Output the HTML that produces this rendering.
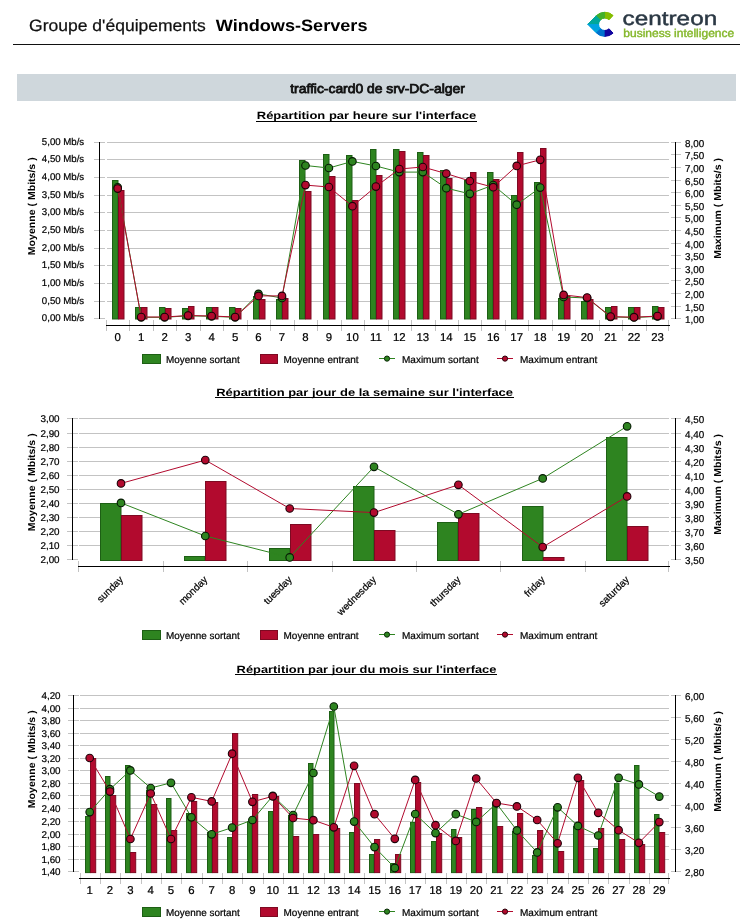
<!DOCTYPE html>
<html><head><meta charset="utf-8"><title>Windows-Servers</title>
<style>html,body{margin:0;padding:0;background:#fff}svg{display:block;will-change:transform}text{font-family:"Liberation Sans",sans-serif}</style>
</head><body>
<svg width="755" height="921" viewBox="0 0 755 921" text-rendering="geometricPrecision">
<rect width="755" height="921" fill="#fff"/>
<text transform="translate(29.00,31.00) scale(1.0620,1)" font-size="16.5" font-weight="normal" text-anchor="start" fill="#111" stroke="#111" stroke-width="0.25">Groupe d'équipements</text>
<text transform="translate(215.70,31.00) scale(1.0975,1)" font-size="16.5" font-weight="bold" text-anchor="start" fill="#000" >Windows-Servers</text>
<rect x="13" y="44" width="727" height="1" fill="#111"/>
<g shape-rendering="geometricPrecision">
<path d="M604.80,12.25 A12.05,12.05 0 0 1 613.02,15.49 L609.03,19.77 A6.2,6.2 0 0 0 604.80,18.10 Z" fill="#84bd00" stroke="#84bd00" stroke-width="1.0" stroke-linejoin="round"/>
<path d="M596.28,15.78 A12.05,12.05 0 0 1 604.80,12.25 L604.80,18.10 A6.2,6.2 0 0 0 600.42,19.92 Z" fill="#43b02a" stroke="#43b02a" stroke-width="1.0" stroke-linejoin="round"/>
<path d="M587.75,24.3 L596.28,15.78 L600.42,19.92 A6.2,6.2 0 0 0 598.60,24.30 Z" fill="#00a79a" stroke="#00a79a" stroke-width="1.0" stroke-linejoin="round"/>
<path d="M587.75,24.3 L596.28,32.82 L600.42,28.68 A6.2,6.2 0 0 1 598.60,24.30 Z" fill="#00a3e0" stroke="#00a3e0" stroke-width="1.0" stroke-linejoin="round"/>
<path d="M604.80,36.35 A12.05,12.05 0 0 1 596.28,32.82 L600.42,28.68 A6.2,6.2 0 0 0 604.80,30.50 Z" fill="#0072ce" stroke="#0072ce" stroke-width="1.0" stroke-linejoin="round"/>
<path d="M613.02,33.11 A12.05,12.05 0 0 1 604.80,36.35 L604.80,30.50 A6.2,6.2 0 0 0 609.03,28.83 Z" fill="#12069f" stroke="#12069f" stroke-width="1.0" stroke-linejoin="round"/>
<path d="M604.80,12.25 A12.05,12.05 0 0 1 613.02,15.49 L609.03,19.77 A6.2,6.2 0 0 0 604.80,18.10 Z" fill="#84bd00" stroke="#84bd00" stroke-width="0" stroke-linejoin="round"/>
<path d="M596.28,15.78 A12.05,12.05 0 0 1 604.80,12.25 L604.80,18.10 A6.2,6.2 0 0 0 600.42,19.92 Z" fill="#43b02a" stroke="#43b02a" stroke-width="0" stroke-linejoin="round"/>
<path d="M587.75,24.3 L596.28,15.78 L600.42,19.92 A6.2,6.2 0 0 0 598.60,24.30 Z" fill="#00a79a" stroke="#00a79a" stroke-width="0" stroke-linejoin="round"/>
<path d="M587.75,24.3 L596.28,32.82 L600.42,28.68 A6.2,6.2 0 0 1 598.60,24.30 Z" fill="#00a3e0" stroke="#00a3e0" stroke-width="0" stroke-linejoin="round"/>
<path d="M604.80,36.35 A12.05,12.05 0 0 1 596.28,32.82 L600.42,28.68 A6.2,6.2 0 0 0 604.80,30.50 Z" fill="#0072ce" stroke="#0072ce" stroke-width="0" stroke-linejoin="round"/>
<path d="M613.02,33.11 A12.05,12.05 0 0 1 604.80,36.35 L604.80,30.50 A6.2,6.2 0 0 0 609.03,28.83 Z" fill="#12069f" stroke="#12069f" stroke-width="0" stroke-linejoin="round"/>
</g>
<text transform="translate(622.60,24.70) scale(1.2400,1)" font-size="19.6" font-weight="normal" text-anchor="start" fill="#2b3844" stroke="#2b3844" stroke-width="0.45">centreon</text>
<text transform="translate(623.30,36.90) scale(1.0450,1)" font-size="11.5" font-weight="normal" text-anchor="start" fill="#84b72a" stroke="#84b72a" stroke-width="0.4">business intelligence</text>
<rect x="17" y="74" width="719" height="27" fill="#cfd7dc"/>
<text transform="translate(377.50,92.60) scale(1.0660,1)" font-size="13" font-weight="normal" text-anchor="middle" fill="#111" stroke="#111" stroke-width="0.8">traffic-card0 de srv-DC-alger</text>
<text transform="translate(366.50,119.20) scale(1.2252,1)" font-size="10.6" font-weight="bold" text-anchor="middle" fill="#000" >Répartition par heure sur l'interface</text>
<rect x="256" y="121" width="221" height="1" fill="#000"/>
<rect x="94" y="142" width="11" height="1" fill="#c3c3c3"/>
<rect x="107" y="142" width="562" height="1" fill="#c3c3c3"/>
<rect x="94" y="159" width="11" height="1" fill="#c3c3c3"/>
<rect x="107" y="159" width="562" height="1" fill="#c3c3c3"/>
<rect x="94" y="177" width="11" height="1" fill="#c3c3c3"/>
<rect x="107" y="177" width="562" height="1" fill="#c3c3c3"/>
<rect x="94" y="195" width="11" height="1" fill="#c3c3c3"/>
<rect x="107" y="195" width="562" height="1" fill="#c3c3c3"/>
<rect x="94" y="212" width="11" height="1" fill="#c3c3c3"/>
<rect x="107" y="212" width="562" height="1" fill="#c3c3c3"/>
<rect x="94" y="230" width="11" height="1" fill="#c3c3c3"/>
<rect x="107" y="230" width="562" height="1" fill="#c3c3c3"/>
<rect x="94" y="248" width="11" height="1" fill="#c3c3c3"/>
<rect x="107" y="248" width="562" height="1" fill="#c3c3c3"/>
<rect x="94" y="265" width="11" height="1" fill="#c3c3c3"/>
<rect x="107" y="265" width="562" height="1" fill="#c3c3c3"/>
<rect x="94" y="283" width="11" height="1" fill="#c3c3c3"/>
<rect x="107" y="283" width="562" height="1" fill="#c3c3c3"/>
<rect x="94" y="301" width="11" height="1" fill="#c3c3c3"/>
<rect x="107" y="301" width="562" height="1" fill="#c3c3c3"/>
<rect x="94" y="318" width="11" height="1" fill="#c3c3c3"/>
<rect x="671" y="142" width="10" height="1" fill="#c3c3c3"/>
<rect x="671" y="154" width="10" height="1" fill="#c3c3c3"/>
<rect x="671" y="167" width="10" height="1" fill="#c3c3c3"/>
<rect x="671" y="180" width="10" height="1" fill="#c3c3c3"/>
<rect x="671" y="192" width="10" height="1" fill="#c3c3c3"/>
<rect x="671" y="205" width="10" height="1" fill="#c3c3c3"/>
<rect x="671" y="217" width="10" height="1" fill="#c3c3c3"/>
<rect x="671" y="230" width="10" height="1" fill="#c3c3c3"/>
<rect x="671" y="243" width="10" height="1" fill="#c3c3c3"/>
<rect x="671" y="255" width="10" height="1" fill="#c3c3c3"/>
<rect x="671" y="268" width="10" height="1" fill="#c3c3c3"/>
<rect x="671" y="280" width="10" height="1" fill="#c3c3c3"/>
<rect x="671" y="293" width="10" height="1" fill="#c3c3c3"/>
<rect x="671" y="306" width="10" height="1" fill="#c3c3c3"/>
<rect x="671" y="318" width="10" height="1" fill="#c3c3c3"/>
<rect x="112.5" y="180.5" width="5.5" height="138.5" fill="#2e8420" stroke="#1d5f14" stroke-width="1"/>
<rect x="118.5" y="190.5" width="5.5" height="128.5" fill="#b20a2e" stroke="#7d0a22" stroke-width="1"/>
<rect x="135.5" y="307.5" width="5.5" height="11.5" fill="#2e8420" stroke="#1d5f14" stroke-width="1"/>
<rect x="141.5" y="307.5" width="5.5" height="11.5" fill="#b20a2e" stroke="#7d0a22" stroke-width="1"/>
<rect x="159.5" y="307.5" width="5.5" height="11.5" fill="#2e8420" stroke="#1d5f14" stroke-width="1"/>
<rect x="165.5" y="308.5" width="5.5" height="10.5" fill="#b20a2e" stroke="#7d0a22" stroke-width="1"/>
<rect x="182.5" y="308.5" width="5.5" height="10.5" fill="#2e8420" stroke="#1d5f14" stroke-width="1"/>
<rect x="188.5" y="306.5" width="5.5" height="12.5" fill="#b20a2e" stroke="#7d0a22" stroke-width="1"/>
<rect x="206.5" y="307.5" width="5.5" height="11.5" fill="#2e8420" stroke="#1d5f14" stroke-width="1"/>
<rect x="212.5" y="307.5" width="5.5" height="11.5" fill="#b20a2e" stroke="#7d0a22" stroke-width="1"/>
<rect x="229.5" y="307.5" width="5.5" height="11.5" fill="#2e8420" stroke="#1d5f14" stroke-width="1"/>
<rect x="235.5" y="308.5" width="5.5" height="10.5" fill="#b20a2e" stroke="#7d0a22" stroke-width="1"/>
<rect x="253.5" y="296.5" width="5.5" height="22.5" fill="#2e8420" stroke="#1d5f14" stroke-width="1"/>
<rect x="259.5" y="299.5" width="5.5" height="19.5" fill="#b20a2e" stroke="#7d0a22" stroke-width="1"/>
<rect x="276.5" y="299.5" width="5.5" height="19.5" fill="#2e8420" stroke="#1d5f14" stroke-width="1"/>
<rect x="282.5" y="298.5" width="5.5" height="20.5" fill="#b20a2e" stroke="#7d0a22" stroke-width="1"/>
<rect x="299.5" y="160.5" width="5.5" height="158.5" fill="#2e8420" stroke="#1d5f14" stroke-width="1"/>
<rect x="305.5" y="191.5" width="5.5" height="127.5" fill="#b20a2e" stroke="#7d0a22" stroke-width="1"/>
<rect x="323.5" y="154.5" width="5.5" height="164.5" fill="#2e8420" stroke="#1d5f14" stroke-width="1"/>
<rect x="329.5" y="176.5" width="5.5" height="142.5" fill="#b20a2e" stroke="#7d0a22" stroke-width="1"/>
<rect x="346.5" y="155.5" width="5.5" height="163.5" fill="#2e8420" stroke="#1d5f14" stroke-width="1"/>
<rect x="352.5" y="200.5" width="5.5" height="118.5" fill="#b20a2e" stroke="#7d0a22" stroke-width="1"/>
<rect x="370.5" y="149.5" width="5.5" height="169.5" fill="#2e8420" stroke="#1d5f14" stroke-width="1"/>
<rect x="376.5" y="175.5" width="5.5" height="143.5" fill="#b20a2e" stroke="#7d0a22" stroke-width="1"/>
<rect x="393.5" y="149.5" width="5.5" height="169.5" fill="#2e8420" stroke="#1d5f14" stroke-width="1"/>
<rect x="399.5" y="151.5" width="5.5" height="167.5" fill="#b20a2e" stroke="#7d0a22" stroke-width="1"/>
<rect x="417.5" y="152.5" width="5.5" height="166.5" fill="#2e8420" stroke="#1d5f14" stroke-width="1"/>
<rect x="423.5" y="155.5" width="5.5" height="163.5" fill="#b20a2e" stroke="#7d0a22" stroke-width="1"/>
<rect x="440.5" y="170.5" width="5.5" height="148.5" fill="#2e8420" stroke="#1d5f14" stroke-width="1"/>
<rect x="446.5" y="178.5" width="5.5" height="140.5" fill="#b20a2e" stroke="#7d0a22" stroke-width="1"/>
<rect x="464.5" y="180.5" width="5.5" height="138.5" fill="#2e8420" stroke="#1d5f14" stroke-width="1"/>
<rect x="470.5" y="172.5" width="5.5" height="146.5" fill="#b20a2e" stroke="#7d0a22" stroke-width="1"/>
<rect x="487.5" y="172.5" width="5.5" height="146.5" fill="#2e8420" stroke="#1d5f14" stroke-width="1"/>
<rect x="493.5" y="179.5" width="5.5" height="139.5" fill="#b20a2e" stroke="#7d0a22" stroke-width="1"/>
<rect x="511.5" y="195.5" width="5.5" height="123.5" fill="#2e8420" stroke="#1d5f14" stroke-width="1"/>
<rect x="517.5" y="152.5" width="5.5" height="166.5" fill="#b20a2e" stroke="#7d0a22" stroke-width="1"/>
<rect x="534.5" y="182.5" width="5.5" height="136.5" fill="#2e8420" stroke="#1d5f14" stroke-width="1"/>
<rect x="540.5" y="148.5" width="5.5" height="170.5" fill="#b20a2e" stroke="#7d0a22" stroke-width="1"/>
<rect x="558.5" y="298.5" width="5.5" height="20.5" fill="#2e8420" stroke="#1d5f14" stroke-width="1"/>
<rect x="564.5" y="296.5" width="5.5" height="22.5" fill="#b20a2e" stroke="#7d0a22" stroke-width="1"/>
<rect x="581.5" y="301.5" width="5.5" height="17.5" fill="#2e8420" stroke="#1d5f14" stroke-width="1"/>
<rect x="587.5" y="299.5" width="5.5" height="19.5" fill="#b20a2e" stroke="#7d0a22" stroke-width="1"/>
<rect x="605.5" y="307.5" width="5.5" height="11.5" fill="#2e8420" stroke="#1d5f14" stroke-width="1"/>
<rect x="611.5" y="306.5" width="5.5" height="12.5" fill="#b20a2e" stroke="#7d0a22" stroke-width="1"/>
<rect x="628.5" y="307.5" width="5.5" height="11.5" fill="#2e8420" stroke="#1d5f14" stroke-width="1"/>
<rect x="634.5" y="307.5" width="5.5" height="11.5" fill="#b20a2e" stroke="#7d0a22" stroke-width="1"/>
<rect x="652.5" y="306.5" width="5.5" height="12.5" fill="#2e8420" stroke="#1d5f14" stroke-width="1"/>
<rect x="658.5" y="307.5" width="5.5" height="11.5" fill="#b20a2e" stroke="#7d0a22" stroke-width="1"/>
<rect x="99" y="142" width="1" height="177" fill="#000"/>
<rect x="675" y="142" width="1" height="177" fill="#000"/>
<rect x="106" y="320" width="1" height="11" fill="#c3c3c3"/>
<rect x="129" y="320" width="1" height="11" fill="#c3c3c3"/>
<rect x="153" y="320" width="1" height="11" fill="#c3c3c3"/>
<rect x="176" y="320" width="1" height="11" fill="#c3c3c3"/>
<rect x="200" y="320" width="1" height="11" fill="#c3c3c3"/>
<rect x="223" y="320" width="1" height="11" fill="#c3c3c3"/>
<rect x="247" y="320" width="1" height="11" fill="#c3c3c3"/>
<rect x="270" y="320" width="1" height="11" fill="#c3c3c3"/>
<rect x="294" y="320" width="1" height="11" fill="#c3c3c3"/>
<rect x="317" y="320" width="1" height="11" fill="#c3c3c3"/>
<rect x="341" y="320" width="1" height="11" fill="#c3c3c3"/>
<rect x="364" y="320" width="1" height="11" fill="#c3c3c3"/>
<rect x="388" y="320" width="1" height="11" fill="#c3c3c3"/>
<rect x="411" y="320" width="1" height="11" fill="#c3c3c3"/>
<rect x="435" y="320" width="1" height="11" fill="#c3c3c3"/>
<rect x="458" y="320" width="1" height="11" fill="#c3c3c3"/>
<rect x="481" y="320" width="1" height="11" fill="#c3c3c3"/>
<rect x="505" y="320" width="1" height="11" fill="#c3c3c3"/>
<rect x="528" y="320" width="1" height="11" fill="#c3c3c3"/>
<rect x="552" y="320" width="1" height="11" fill="#c3c3c3"/>
<rect x="575" y="320" width="1" height="11" fill="#c3c3c3"/>
<rect x="599" y="320" width="1" height="11" fill="#c3c3c3"/>
<rect x="622" y="320" width="1" height="11" fill="#c3c3c3"/>
<rect x="646" y="320" width="1" height="11" fill="#c3c3c3"/>
<rect x="668" y="320" width="1" height="11" fill="#c3c3c3"/>
<rect x="106" y="325" width="564" height="1" fill="#000"/>
<polyline points="117.7,187.3 141.2,317.3 164.6,317.3 188.1,315.8 211.6,316.3 235.1,317.3 258.5,293.9 282.0,298.0 305.5,165.5 328.9,168.0 352.4,161.4 375.9,166.0 399.3,172.1 422.8,172.1 446.3,188.2 469.8,193.8 493.2,185.1 516.7,204.7 540.2,187.6 563.6,297.0 587.1,298.0 610.6,316.9 634.0,317.5 657.5,316.4" fill="none" stroke="#2e8420" stroke-width="1"/>
<polyline points="117.7,188.6 141.2,317.0 164.6,317.0 188.1,315.5 211.6,316.0 235.1,317.0 258.5,295.9 282.0,295.9 305.5,185.1 328.9,187.0 352.4,206.2 375.9,186.6 399.3,169.0 422.8,167.0 446.3,173.6 469.8,181.0 493.2,187.2 516.7,165.9 540.2,159.8 563.6,294.9 587.1,297.6 610.6,316.6 634.0,317.2 657.5,316.1" fill="none" stroke="#b20a2e" stroke-width="1"/>
<circle cx="117.7" cy="187.3" r="3.8" fill="#2e8420" stroke="#061a04" stroke-width="1.1"/>
<circle cx="141.2" cy="317.3" r="3.8" fill="#2e8420" stroke="#061a04" stroke-width="1.1"/>
<circle cx="164.6" cy="317.3" r="3.8" fill="#2e8420" stroke="#061a04" stroke-width="1.1"/>
<circle cx="188.1" cy="315.8" r="3.8" fill="#2e8420" stroke="#061a04" stroke-width="1.1"/>
<circle cx="211.6" cy="316.3" r="3.8" fill="#2e8420" stroke="#061a04" stroke-width="1.1"/>
<circle cx="235.1" cy="317.3" r="3.8" fill="#2e8420" stroke="#061a04" stroke-width="1.1"/>
<circle cx="258.5" cy="293.9" r="3.8" fill="#2e8420" stroke="#061a04" stroke-width="1.1"/>
<circle cx="282.0" cy="298.0" r="3.8" fill="#2e8420" stroke="#061a04" stroke-width="1.1"/>
<circle cx="305.5" cy="165.5" r="3.8" fill="#2e8420" stroke="#061a04" stroke-width="1.1"/>
<circle cx="328.9" cy="168.0" r="3.8" fill="#2e8420" stroke="#061a04" stroke-width="1.1"/>
<circle cx="352.4" cy="161.4" r="3.8" fill="#2e8420" stroke="#061a04" stroke-width="1.1"/>
<circle cx="375.9" cy="166.0" r="3.8" fill="#2e8420" stroke="#061a04" stroke-width="1.1"/>
<circle cx="399.3" cy="172.1" r="3.8" fill="#2e8420" stroke="#061a04" stroke-width="1.1"/>
<circle cx="422.8" cy="172.1" r="3.8" fill="#2e8420" stroke="#061a04" stroke-width="1.1"/>
<circle cx="446.3" cy="188.2" r="3.8" fill="#2e8420" stroke="#061a04" stroke-width="1.1"/>
<circle cx="469.8" cy="193.8" r="3.8" fill="#2e8420" stroke="#061a04" stroke-width="1.1"/>
<circle cx="493.2" cy="185.1" r="3.8" fill="#2e8420" stroke="#061a04" stroke-width="1.1"/>
<circle cx="516.7" cy="204.7" r="3.8" fill="#2e8420" stroke="#061a04" stroke-width="1.1"/>
<circle cx="540.2" cy="187.6" r="3.8" fill="#2e8420" stroke="#061a04" stroke-width="1.1"/>
<circle cx="563.6" cy="297.0" r="3.8" fill="#2e8420" stroke="#061a04" stroke-width="1.1"/>
<circle cx="587.1" cy="298.0" r="3.8" fill="#2e8420" stroke="#061a04" stroke-width="1.1"/>
<circle cx="610.6" cy="316.9" r="3.8" fill="#2e8420" stroke="#061a04" stroke-width="1.1"/>
<circle cx="634.0" cy="317.5" r="3.8" fill="#2e8420" stroke="#061a04" stroke-width="1.1"/>
<circle cx="657.5" cy="316.4" r="3.8" fill="#2e8420" stroke="#061a04" stroke-width="1.1"/>
<circle cx="117.7" cy="188.6" r="3.8" fill="#b20a2e" stroke="#1c0208" stroke-width="1.1"/>
<circle cx="141.2" cy="317.0" r="3.8" fill="#b20a2e" stroke="#1c0208" stroke-width="1.1"/>
<circle cx="164.6" cy="317.0" r="3.8" fill="#b20a2e" stroke="#1c0208" stroke-width="1.1"/>
<circle cx="188.1" cy="315.5" r="3.8" fill="#b20a2e" stroke="#1c0208" stroke-width="1.1"/>
<circle cx="211.6" cy="316.0" r="3.8" fill="#b20a2e" stroke="#1c0208" stroke-width="1.1"/>
<circle cx="235.1" cy="317.0" r="3.8" fill="#b20a2e" stroke="#1c0208" stroke-width="1.1"/>
<circle cx="258.5" cy="295.9" r="3.8" fill="#b20a2e" stroke="#1c0208" stroke-width="1.1"/>
<circle cx="282.0" cy="295.9" r="3.8" fill="#b20a2e" stroke="#1c0208" stroke-width="1.1"/>
<circle cx="305.5" cy="185.1" r="3.8" fill="#b20a2e" stroke="#1c0208" stroke-width="1.1"/>
<circle cx="328.9" cy="187.0" r="3.8" fill="#b20a2e" stroke="#1c0208" stroke-width="1.1"/>
<circle cx="352.4" cy="206.2" r="3.8" fill="#b20a2e" stroke="#1c0208" stroke-width="1.1"/>
<circle cx="375.9" cy="186.6" r="3.8" fill="#b20a2e" stroke="#1c0208" stroke-width="1.1"/>
<circle cx="399.3" cy="169.0" r="3.8" fill="#b20a2e" stroke="#1c0208" stroke-width="1.1"/>
<circle cx="422.8" cy="167.0" r="3.8" fill="#b20a2e" stroke="#1c0208" stroke-width="1.1"/>
<circle cx="446.3" cy="173.6" r="3.8" fill="#b20a2e" stroke="#1c0208" stroke-width="1.1"/>
<circle cx="469.8" cy="181.0" r="3.8" fill="#b20a2e" stroke="#1c0208" stroke-width="1.1"/>
<circle cx="493.2" cy="187.2" r="3.8" fill="#b20a2e" stroke="#1c0208" stroke-width="1.1"/>
<circle cx="516.7" cy="165.9" r="3.8" fill="#b20a2e" stroke="#1c0208" stroke-width="1.1"/>
<circle cx="540.2" cy="159.8" r="3.8" fill="#b20a2e" stroke="#1c0208" stroke-width="1.1"/>
<circle cx="563.6" cy="294.9" r="3.8" fill="#b20a2e" stroke="#1c0208" stroke-width="1.1"/>
<circle cx="587.1" cy="297.6" r="3.8" fill="#b20a2e" stroke="#1c0208" stroke-width="1.1"/>
<circle cx="610.6" cy="316.6" r="3.8" fill="#b20a2e" stroke="#1c0208" stroke-width="1.1"/>
<circle cx="634.0" cy="317.2" r="3.8" fill="#b20a2e" stroke="#1c0208" stroke-width="1.1"/>
<circle cx="657.5" cy="316.1" r="3.8" fill="#b20a2e" stroke="#1c0208" stroke-width="1.1"/>
<text transform="translate(84.20,145.20) scale(0.9843,1)" font-size="9.8" font-weight="normal" text-anchor="end" fill="#000" stroke="#000" stroke-width="0.22">5,00 Mb/s</text>
<text transform="translate(84.20,162.20) scale(0.9843,1)" font-size="9.8" font-weight="normal" text-anchor="end" fill="#000" stroke="#000" stroke-width="0.22">4,50 Mb/s</text>
<text transform="translate(84.20,180.20) scale(0.9843,1)" font-size="9.8" font-weight="normal" text-anchor="end" fill="#000" stroke="#000" stroke-width="0.22">4,00 Mb/s</text>
<text transform="translate(84.20,198.20) scale(0.9843,1)" font-size="9.8" font-weight="normal" text-anchor="end" fill="#000" stroke="#000" stroke-width="0.22">3,50 Mb/s</text>
<text transform="translate(84.20,215.20) scale(0.9843,1)" font-size="9.8" font-weight="normal" text-anchor="end" fill="#000" stroke="#000" stroke-width="0.22">3,00 Mb/s</text>
<text transform="translate(84.20,233.20) scale(0.9843,1)" font-size="9.8" font-weight="normal" text-anchor="end" fill="#000" stroke="#000" stroke-width="0.22">2,50 Mb/s</text>
<text transform="translate(84.20,251.20) scale(0.9843,1)" font-size="9.8" font-weight="normal" text-anchor="end" fill="#000" stroke="#000" stroke-width="0.22">2,00 Mb/s</text>
<text transform="translate(84.20,268.20) scale(0.9843,1)" font-size="9.8" font-weight="normal" text-anchor="end" fill="#000" stroke="#000" stroke-width="0.22">1,50 Mb/s</text>
<text transform="translate(84.20,286.20) scale(0.9843,1)" font-size="9.8" font-weight="normal" text-anchor="end" fill="#000" stroke="#000" stroke-width="0.22">1,00 Mb/s</text>
<text transform="translate(84.20,304.20) scale(0.9843,1)" font-size="9.8" font-weight="normal" text-anchor="end" fill="#000" stroke="#000" stroke-width="0.22">0,50 Mb/s</text>
<text transform="translate(84.20,321.20) scale(0.9843,1)" font-size="9.8" font-weight="normal" text-anchor="end" fill="#000" stroke="#000" stroke-width="0.22">0,00 Mb/s</text>
<text transform="translate(685.00,147.10) scale(0.9850,1)" font-size="10" font-weight="normal" text-anchor="start" fill="#000" stroke="#000" stroke-width="0.22">8,00</text>
<text transform="translate(685.00,159.10) scale(0.9850,1)" font-size="10" font-weight="normal" text-anchor="start" fill="#000" stroke="#000" stroke-width="0.22">7,50</text>
<text transform="translate(685.00,172.10) scale(0.9850,1)" font-size="10" font-weight="normal" text-anchor="start" fill="#000" stroke="#000" stroke-width="0.22">7,00</text>
<text transform="translate(685.00,185.10) scale(0.9850,1)" font-size="10" font-weight="normal" text-anchor="start" fill="#000" stroke="#000" stroke-width="0.22">6,50</text>
<text transform="translate(685.00,197.10) scale(0.9850,1)" font-size="10" font-weight="normal" text-anchor="start" fill="#000" stroke="#000" stroke-width="0.22">6,00</text>
<text transform="translate(685.00,210.10) scale(0.9850,1)" font-size="10" font-weight="normal" text-anchor="start" fill="#000" stroke="#000" stroke-width="0.22">5,50</text>
<text transform="translate(685.00,222.10) scale(0.9850,1)" font-size="10" font-weight="normal" text-anchor="start" fill="#000" stroke="#000" stroke-width="0.22">5,00</text>
<text transform="translate(685.00,235.10) scale(0.9850,1)" font-size="10" font-weight="normal" text-anchor="start" fill="#000" stroke="#000" stroke-width="0.22">4,50</text>
<text transform="translate(685.00,248.10) scale(0.9850,1)" font-size="10" font-weight="normal" text-anchor="start" fill="#000" stroke="#000" stroke-width="0.22">4,00</text>
<text transform="translate(685.00,260.10) scale(0.9850,1)" font-size="10" font-weight="normal" text-anchor="start" fill="#000" stroke="#000" stroke-width="0.22">3,50</text>
<text transform="translate(685.00,273.10) scale(0.9850,1)" font-size="10" font-weight="normal" text-anchor="start" fill="#000" stroke="#000" stroke-width="0.22">3,00</text>
<text transform="translate(685.00,285.10) scale(0.9850,1)" font-size="10" font-weight="normal" text-anchor="start" fill="#000" stroke="#000" stroke-width="0.22">2,50</text>
<text transform="translate(685.00,298.10) scale(0.9850,1)" font-size="10" font-weight="normal" text-anchor="start" fill="#000" stroke="#000" stroke-width="0.22">2,00</text>
<text transform="translate(685.00,311.10) scale(0.9850,1)" font-size="10" font-weight="normal" text-anchor="start" fill="#000" stroke="#000" stroke-width="0.22">1,50</text>
<text transform="translate(685.00,323.10) scale(0.9850,1)" font-size="10" font-weight="normal" text-anchor="start" fill="#000" stroke="#000" stroke-width="0.22">1,00</text>
<text transform="translate(34.6,157.3) rotate(-90) scale(1.055,1)" font-size="10" font-weight="bold" text-anchor="end">Moyenne ( Mbits/s )</text>
<text transform="translate(720.5,158.0) rotate(-90) scale(1.055,1)" font-size="10" font-weight="bold" text-anchor="end">Maximum ( Mbits/s )</text>
<text transform="translate(117.70,341.00) scale(1.0000,1)" font-size="11.4" font-weight="normal" text-anchor="middle" fill="#000" stroke="#000" stroke-width="0.22">0</text>
<text transform="translate(141.18,341.00) scale(1.0000,1)" font-size="11.4" font-weight="normal" text-anchor="middle" fill="#000" stroke="#000" stroke-width="0.22">1</text>
<text transform="translate(164.64,341.00) scale(1.0000,1)" font-size="11.4" font-weight="normal" text-anchor="middle" fill="#000" stroke="#000" stroke-width="0.22">2</text>
<text transform="translate(188.12,341.00) scale(1.0000,1)" font-size="11.4" font-weight="normal" text-anchor="middle" fill="#000" stroke="#000" stroke-width="0.22">3</text>
<text transform="translate(211.58,341.00) scale(1.0000,1)" font-size="11.4" font-weight="normal" text-anchor="middle" fill="#000" stroke="#000" stroke-width="0.22">4</text>
<text transform="translate(235.05,341.00) scale(1.0000,1)" font-size="11.4" font-weight="normal" text-anchor="middle" fill="#000" stroke="#000" stroke-width="0.22">5</text>
<text transform="translate(258.52,341.00) scale(1.0000,1)" font-size="11.4" font-weight="normal" text-anchor="middle" fill="#000" stroke="#000" stroke-width="0.22">6</text>
<text transform="translate(282.00,341.00) scale(1.0000,1)" font-size="11.4" font-weight="normal" text-anchor="middle" fill="#000" stroke="#000" stroke-width="0.22">7</text>
<text transform="translate(305.47,341.00) scale(1.0000,1)" font-size="11.4" font-weight="normal" text-anchor="middle" fill="#000" stroke="#000" stroke-width="0.22">8</text>
<text transform="translate(328.93,341.00) scale(1.0000,1)" font-size="11.4" font-weight="normal" text-anchor="middle" fill="#000" stroke="#000" stroke-width="0.22">9</text>
<text transform="translate(352.40,341.00) scale(1.0000,1)" font-size="11.4" font-weight="normal" text-anchor="middle" fill="#000" stroke="#000" stroke-width="0.22">10</text>
<text transform="translate(375.88,341.00) scale(1.0000,1)" font-size="11.4" font-weight="normal" text-anchor="middle" fill="#000" stroke="#000" stroke-width="0.22">11</text>
<text transform="translate(399.35,341.00) scale(1.0000,1)" font-size="11.4" font-weight="normal" text-anchor="middle" fill="#000" stroke="#000" stroke-width="0.22">12</text>
<text transform="translate(422.81,341.00) scale(1.0000,1)" font-size="11.4" font-weight="normal" text-anchor="middle" fill="#000" stroke="#000" stroke-width="0.22">13</text>
<text transform="translate(446.28,341.00) scale(1.0000,1)" font-size="11.4" font-weight="normal" text-anchor="middle" fill="#000" stroke="#000" stroke-width="0.22">14</text>
<text transform="translate(469.75,341.00) scale(1.0000,1)" font-size="11.4" font-weight="normal" text-anchor="middle" fill="#000" stroke="#000" stroke-width="0.22">15</text>
<text transform="translate(493.23,341.00) scale(1.0000,1)" font-size="11.4" font-weight="normal" text-anchor="middle" fill="#000" stroke="#000" stroke-width="0.22">16</text>
<text transform="translate(516.69,341.00) scale(1.0000,1)" font-size="11.4" font-weight="normal" text-anchor="middle" fill="#000" stroke="#000" stroke-width="0.22">17</text>
<text transform="translate(540.16,341.00) scale(1.0000,1)" font-size="11.4" font-weight="normal" text-anchor="middle" fill="#000" stroke="#000" stroke-width="0.22">18</text>
<text transform="translate(563.63,341.00) scale(1.0000,1)" font-size="11.4" font-weight="normal" text-anchor="middle" fill="#000" stroke="#000" stroke-width="0.22">19</text>
<text transform="translate(587.11,341.00) scale(1.0000,1)" font-size="11.4" font-weight="normal" text-anchor="middle" fill="#000" stroke="#000" stroke-width="0.22">20</text>
<text transform="translate(610.57,341.00) scale(1.0000,1)" font-size="11.4" font-weight="normal" text-anchor="middle" fill="#000" stroke="#000" stroke-width="0.22">21</text>
<text transform="translate(634.04,341.00) scale(1.0000,1)" font-size="11.4" font-weight="normal" text-anchor="middle" fill="#000" stroke="#000" stroke-width="0.22">22</text>
<text transform="translate(657.51,341.00) scale(1.0000,1)" font-size="11.4" font-weight="normal" text-anchor="middle" fill="#000" stroke="#000" stroke-width="0.22">23</text>
<rect x="142.5" y="354.5" width="18" height="9" fill="#2e8420" stroke="#1d5f14" stroke-width="1"/>
<text transform="translate(166.00,362.60) scale(0.9900,1)" font-size="10" font-weight="normal" text-anchor="start" fill="#000" stroke="#000" stroke-width="0.22">Moyenne sortant</text>
<rect x="260.5" y="354.5" width="17" height="9" fill="#b20a2e" stroke="#7d0a22" stroke-width="1"/>
<text transform="translate(283.50,362.60) scale(1.0000,1)" font-size="10" font-weight="normal" text-anchor="start" fill="#000" stroke="#000" stroke-width="0.22">Moyenne entrant</text>
<rect x="379" y="358" width="16" height="1" fill="#2e8420"/>
<circle cx="387" cy="358.6" r="2.6" fill="#2e8420" stroke="#0c2a08" stroke-width="1"/>
<text transform="translate(402.00,362.60) scale(1.0000,1)" font-size="10" font-weight="normal" text-anchor="start" fill="#000" stroke="#000" stroke-width="0.22">Maximum sortant</text>
<rect x="497" y="358" width="16" height="1" fill="#b20a2e"/>
<circle cx="505" cy="358.6" r="2.6" fill="#b20a2e" stroke="#2a040c" stroke-width="1"/>
<text transform="translate(520.00,362.60) scale(1.0000,1)" font-size="10" font-weight="normal" text-anchor="start" fill="#000" stroke="#000" stroke-width="0.22">Maximum entrant</text>
<text transform="translate(364.60,396.00) scale(1.2229,1)" font-size="10.6" font-weight="bold" text-anchor="middle" fill="#000" >Répartition par jour de la semaine sur l'interface</text>
<rect x="215" y="397" width="299" height="1" fill="#000"/>
<rect x="67" y="418" width="11" height="1" fill="#c3c3c3"/>
<rect x="79" y="418" width="590" height="1" fill="#c3c3c3"/>
<rect x="67" y="433" width="11" height="1" fill="#c3c3c3"/>
<rect x="79" y="433" width="590" height="1" fill="#c3c3c3"/>
<rect x="67" y="447" width="11" height="1" fill="#c3c3c3"/>
<rect x="79" y="447" width="590" height="1" fill="#c3c3c3"/>
<rect x="67" y="461" width="11" height="1" fill="#c3c3c3"/>
<rect x="79" y="461" width="590" height="1" fill="#c3c3c3"/>
<rect x="67" y="475" width="11" height="1" fill="#c3c3c3"/>
<rect x="79" y="475" width="590" height="1" fill="#c3c3c3"/>
<rect x="67" y="489" width="11" height="1" fill="#c3c3c3"/>
<rect x="79" y="489" width="590" height="1" fill="#c3c3c3"/>
<rect x="67" y="503" width="11" height="1" fill="#c3c3c3"/>
<rect x="79" y="503" width="590" height="1" fill="#c3c3c3"/>
<rect x="67" y="517" width="11" height="1" fill="#c3c3c3"/>
<rect x="79" y="517" width="590" height="1" fill="#c3c3c3"/>
<rect x="67" y="531" width="11" height="1" fill="#c3c3c3"/>
<rect x="79" y="531" width="590" height="1" fill="#c3c3c3"/>
<rect x="67" y="545" width="11" height="1" fill="#c3c3c3"/>
<rect x="79" y="545" width="590" height="1" fill="#c3c3c3"/>
<rect x="67" y="559" width="11" height="1" fill="#c3c3c3"/>
<rect x="671" y="418" width="10" height="1" fill="#c3c3c3"/>
<rect x="671" y="433" width="10" height="1" fill="#c3c3c3"/>
<rect x="671" y="447" width="10" height="1" fill="#c3c3c3"/>
<rect x="671" y="461" width="10" height="1" fill="#c3c3c3"/>
<rect x="671" y="475" width="10" height="1" fill="#c3c3c3"/>
<rect x="671" y="489" width="10" height="1" fill="#c3c3c3"/>
<rect x="671" y="503" width="10" height="1" fill="#c3c3c3"/>
<rect x="671" y="517" width="10" height="1" fill="#c3c3c3"/>
<rect x="671" y="531" width="10" height="1" fill="#c3c3c3"/>
<rect x="671" y="545" width="10" height="1" fill="#c3c3c3"/>
<rect x="671" y="559" width="10" height="1" fill="#c3c3c3"/>
<rect x="100.5" y="503.5" width="20.5" height="57.0" fill="#2e8420" stroke="#1d5f14" stroke-width="1"/>
<rect x="121.5" y="515.5" width="20.5" height="45.0" fill="#b20a2e" stroke="#7d0a22" stroke-width="1"/>
<rect x="184.5" y="556.5" width="20.5" height="4.0" fill="#2e8420" stroke="#1d5f14" stroke-width="1"/>
<rect x="205.5" y="481.5" width="20.5" height="79.0" fill="#b20a2e" stroke="#7d0a22" stroke-width="1"/>
<rect x="269.5" y="548.5" width="20.5" height="12.0" fill="#2e8420" stroke="#1d5f14" stroke-width="1"/>
<rect x="290.5" y="524.5" width="20.5" height="36.0" fill="#b20a2e" stroke="#7d0a22" stroke-width="1"/>
<rect x="353.5" y="486.5" width="20.5" height="74.0" fill="#2e8420" stroke="#1d5f14" stroke-width="1"/>
<rect x="374.5" y="530.5" width="20.5" height="30.0" fill="#b20a2e" stroke="#7d0a22" stroke-width="1"/>
<rect x="437.5" y="522.5" width="20.5" height="38.0" fill="#2e8420" stroke="#1d5f14" stroke-width="1"/>
<rect x="458.5" y="513.5" width="20.5" height="47.0" fill="#b20a2e" stroke="#7d0a22" stroke-width="1"/>
<rect x="522.5" y="506.5" width="20.5" height="54.0" fill="#2e8420" stroke="#1d5f14" stroke-width="1"/>
<rect x="543.5" y="557.5" width="20.5" height="3.0" fill="#b20a2e" stroke="#7d0a22" stroke-width="1"/>
<rect x="606.5" y="437.5" width="20.5" height="123.0" fill="#2e8420" stroke="#1d5f14" stroke-width="1"/>
<rect x="627.5" y="526.5" width="20.5" height="34.0" fill="#b20a2e" stroke="#7d0a22" stroke-width="1"/>
<rect x="72" y="418" width="1" height="142" fill="#000"/>
<rect x="675" y="418" width="1" height="142" fill="#000"/>
<rect x="78" y="561" width="1" height="11" fill="#c3c3c3"/>
<rect x="163" y="561" width="1" height="11" fill="#c3c3c3"/>
<rect x="247" y="561" width="1" height="11" fill="#c3c3c3"/>
<rect x="332" y="561" width="1" height="11" fill="#c3c3c3"/>
<rect x="416" y="561" width="1" height="11" fill="#c3c3c3"/>
<rect x="500" y="561" width="1" height="11" fill="#c3c3c3"/>
<rect x="585" y="561" width="1" height="11" fill="#c3c3c3"/>
<rect x="668" y="561" width="1" height="11" fill="#c3c3c3"/>
<rect x="78" y="566" width="592" height="1" fill="#000"/>
<polyline points="121.0,502.9 205.3,536.0 289.7,557.4 374.0,466.8 458.4,514.3 542.7,478.4 627.1,426.3" fill="none" stroke="#2e8420" stroke-width="1"/>
<polyline points="121.0,483.4 205.3,460.1 289.7,508.5 374.0,512.6 458.4,484.8 542.7,547.1 627.1,496.4" fill="none" stroke="#b20a2e" stroke-width="1"/>
<circle cx="121.0" cy="502.9" r="3.8" fill="#2e8420" stroke="#061a04" stroke-width="1.1"/>
<circle cx="205.3" cy="536.0" r="3.8" fill="#2e8420" stroke="#061a04" stroke-width="1.1"/>
<circle cx="289.7" cy="557.4" r="3.8" fill="#2e8420" stroke="#061a04" stroke-width="1.1"/>
<circle cx="374.0" cy="466.8" r="3.8" fill="#2e8420" stroke="#061a04" stroke-width="1.1"/>
<circle cx="458.4" cy="514.3" r="3.8" fill="#2e8420" stroke="#061a04" stroke-width="1.1"/>
<circle cx="542.7" cy="478.4" r="3.8" fill="#2e8420" stroke="#061a04" stroke-width="1.1"/>
<circle cx="627.1" cy="426.3" r="3.8" fill="#2e8420" stroke="#061a04" stroke-width="1.1"/>
<circle cx="121.0" cy="483.4" r="3.8" fill="#b20a2e" stroke="#1c0208" stroke-width="1.1"/>
<circle cx="205.3" cy="460.1" r="3.8" fill="#b20a2e" stroke="#1c0208" stroke-width="1.1"/>
<circle cx="289.7" cy="508.5" r="3.8" fill="#b20a2e" stroke="#1c0208" stroke-width="1.1"/>
<circle cx="374.0" cy="512.6" r="3.8" fill="#b20a2e" stroke="#1c0208" stroke-width="1.1"/>
<circle cx="458.4" cy="484.8" r="3.8" fill="#b20a2e" stroke="#1c0208" stroke-width="1.1"/>
<circle cx="542.7" cy="547.1" r="3.8" fill="#b20a2e" stroke="#1c0208" stroke-width="1.1"/>
<circle cx="627.1" cy="496.4" r="3.8" fill="#b20a2e" stroke="#1c0208" stroke-width="1.1"/>
<text transform="translate(59.60,421.70) scale(1.0047,1)" font-size="9.8" font-weight="normal" text-anchor="end" fill="#000" stroke="#000" stroke-width="0.22">3,00</text>
<text transform="translate(59.60,436.70) scale(1.0047,1)" font-size="9.8" font-weight="normal" text-anchor="end" fill="#000" stroke="#000" stroke-width="0.22">2,90</text>
<text transform="translate(59.60,450.70) scale(1.0047,1)" font-size="9.8" font-weight="normal" text-anchor="end" fill="#000" stroke="#000" stroke-width="0.22">2,80</text>
<text transform="translate(59.60,464.70) scale(1.0047,1)" font-size="9.8" font-weight="normal" text-anchor="end" fill="#000" stroke="#000" stroke-width="0.22">2,70</text>
<text transform="translate(59.60,478.70) scale(1.0047,1)" font-size="9.8" font-weight="normal" text-anchor="end" fill="#000" stroke="#000" stroke-width="0.22">2,60</text>
<text transform="translate(59.60,492.70) scale(1.0047,1)" font-size="9.8" font-weight="normal" text-anchor="end" fill="#000" stroke="#000" stroke-width="0.22">2,50</text>
<text transform="translate(59.60,506.70) scale(1.0047,1)" font-size="9.8" font-weight="normal" text-anchor="end" fill="#000" stroke="#000" stroke-width="0.22">2,40</text>
<text transform="translate(59.60,520.70) scale(1.0047,1)" font-size="9.8" font-weight="normal" text-anchor="end" fill="#000" stroke="#000" stroke-width="0.22">2,30</text>
<text transform="translate(59.60,534.70) scale(1.0047,1)" font-size="9.8" font-weight="normal" text-anchor="end" fill="#000" stroke="#000" stroke-width="0.22">2,20</text>
<text transform="translate(59.60,548.70) scale(1.0047,1)" font-size="9.8" font-weight="normal" text-anchor="end" fill="#000" stroke="#000" stroke-width="0.22">2,10</text>
<text transform="translate(59.60,562.70) scale(1.0047,1)" font-size="9.8" font-weight="normal" text-anchor="end" fill="#000" stroke="#000" stroke-width="0.22">2,00</text>
<text transform="translate(685.00,423.10) scale(0.9850,1)" font-size="10" font-weight="normal" text-anchor="start" fill="#000" stroke="#000" stroke-width="0.22">4,50</text>
<text transform="translate(685.00,438.10) scale(0.9850,1)" font-size="10" font-weight="normal" text-anchor="start" fill="#000" stroke="#000" stroke-width="0.22">4,40</text>
<text transform="translate(685.00,452.10) scale(0.9850,1)" font-size="10" font-weight="normal" text-anchor="start" fill="#000" stroke="#000" stroke-width="0.22">4,30</text>
<text transform="translate(685.00,466.10) scale(0.9850,1)" font-size="10" font-weight="normal" text-anchor="start" fill="#000" stroke="#000" stroke-width="0.22">4,20</text>
<text transform="translate(685.00,480.10) scale(0.9850,1)" font-size="10" font-weight="normal" text-anchor="start" fill="#000" stroke="#000" stroke-width="0.22">4,10</text>
<text transform="translate(685.00,494.10) scale(0.9850,1)" font-size="10" font-weight="normal" text-anchor="start" fill="#000" stroke="#000" stroke-width="0.22">4,00</text>
<text transform="translate(685.00,508.10) scale(0.9850,1)" font-size="10" font-weight="normal" text-anchor="start" fill="#000" stroke="#000" stroke-width="0.22">3,90</text>
<text transform="translate(685.00,522.10) scale(0.9850,1)" font-size="10" font-weight="normal" text-anchor="start" fill="#000" stroke="#000" stroke-width="0.22">3,80</text>
<text transform="translate(685.00,536.10) scale(0.9850,1)" font-size="10" font-weight="normal" text-anchor="start" fill="#000" stroke="#000" stroke-width="0.22">3,70</text>
<text transform="translate(685.00,550.10) scale(0.9850,1)" font-size="10" font-weight="normal" text-anchor="start" fill="#000" stroke="#000" stroke-width="0.22">3,60</text>
<text transform="translate(685.00,564.10) scale(0.9850,1)" font-size="10" font-weight="normal" text-anchor="start" fill="#000" stroke="#000" stroke-width="0.22">3,50</text>
<text transform="translate(34.5,433.3) rotate(-90) scale(1.055,1)" font-size="10" font-weight="bold" text-anchor="end">Moyenne ( Mbits/s )</text>
<text transform="translate(720.5,434.0) rotate(-90) scale(1.055,1)" font-size="10" font-weight="bold" text-anchor="end">Maximum ( Mbits/s )</text>
<text transform="translate(123.8,580.2) rotate(-45)" font-size="10" text-anchor="end" stroke="#000" stroke-width="0.22">sunday</text>
<text transform="translate(208.1,580.2) rotate(-45)" font-size="10" text-anchor="end" stroke="#000" stroke-width="0.22">monday</text>
<text transform="translate(292.5,580.2) rotate(-45)" font-size="10" text-anchor="end" stroke="#000" stroke-width="0.22">tuesday</text>
<text transform="translate(376.8,580.2) rotate(-45)" font-size="10" text-anchor="end" stroke="#000" stroke-width="0.22">wednesday</text>
<text transform="translate(461.2,580.2) rotate(-45)" font-size="10" text-anchor="end" stroke="#000" stroke-width="0.22">thursday</text>
<text transform="translate(545.5,580.2) rotate(-45)" font-size="10" text-anchor="end" stroke="#000" stroke-width="0.22">friday</text>
<text transform="translate(629.9,580.2) rotate(-45)" font-size="10" text-anchor="end" stroke="#000" stroke-width="0.22">saturday</text>
<rect x="142.5" y="630.5" width="18" height="9" fill="#2e8420" stroke="#1d5f14" stroke-width="1"/>
<text transform="translate(166.00,638.60) scale(0.9900,1)" font-size="10" font-weight="normal" text-anchor="start" fill="#000" stroke="#000" stroke-width="0.22">Moyenne sortant</text>
<rect x="260.5" y="630.5" width="17" height="9" fill="#b20a2e" stroke="#7d0a22" stroke-width="1"/>
<text transform="translate(283.50,638.60) scale(1.0000,1)" font-size="10" font-weight="normal" text-anchor="start" fill="#000" stroke="#000" stroke-width="0.22">Moyenne entrant</text>
<rect x="379" y="634" width="16" height="1" fill="#2e8420"/>
<circle cx="387" cy="634.6" r="2.6" fill="#2e8420" stroke="#0c2a08" stroke-width="1"/>
<text transform="translate(402.00,638.60) scale(1.0000,1)" font-size="10" font-weight="normal" text-anchor="start" fill="#000" stroke="#000" stroke-width="0.22">Maximum sortant</text>
<rect x="497" y="634" width="16" height="1" fill="#b20a2e"/>
<circle cx="505" cy="634.6" r="2.6" fill="#b20a2e" stroke="#2a040c" stroke-width="1"/>
<text transform="translate(520.00,638.60) scale(1.0000,1)" font-size="10" font-weight="normal" text-anchor="start" fill="#000" stroke="#000" stroke-width="0.22">Maximum entrant</text>
<text transform="translate(366.50,673.00) scale(1.2151,1)" font-size="10.6" font-weight="bold" text-anchor="middle" fill="#000" >Répartition par jour du mois sur l'interface</text>
<rect x="235" y="674" width="262" height="1" fill="#000"/>
<rect x="68" y="695" width="11" height="1" fill="#c3c3c3"/>
<rect x="80" y="695" width="589" height="1" fill="#c3c3c3"/>
<rect x="68" y="708" width="11" height="1" fill="#c3c3c3"/>
<rect x="80" y="708" width="589" height="1" fill="#c3c3c3"/>
<rect x="68" y="720" width="11" height="1" fill="#c3c3c3"/>
<rect x="80" y="720" width="589" height="1" fill="#c3c3c3"/>
<rect x="68" y="733" width="11" height="1" fill="#c3c3c3"/>
<rect x="80" y="733" width="589" height="1" fill="#c3c3c3"/>
<rect x="68" y="745" width="11" height="1" fill="#c3c3c3"/>
<rect x="80" y="745" width="589" height="1" fill="#c3c3c3"/>
<rect x="68" y="758" width="11" height="1" fill="#c3c3c3"/>
<rect x="80" y="758" width="589" height="1" fill="#c3c3c3"/>
<rect x="68" y="770" width="11" height="1" fill="#c3c3c3"/>
<rect x="80" y="770" width="589" height="1" fill="#c3c3c3"/>
<rect x="68" y="783" width="11" height="1" fill="#c3c3c3"/>
<rect x="80" y="783" width="589" height="1" fill="#c3c3c3"/>
<rect x="68" y="795" width="11" height="1" fill="#c3c3c3"/>
<rect x="80" y="795" width="589" height="1" fill="#c3c3c3"/>
<rect x="68" y="808" width="11" height="1" fill="#c3c3c3"/>
<rect x="80" y="808" width="589" height="1" fill="#c3c3c3"/>
<rect x="68" y="821" width="11" height="1" fill="#c3c3c3"/>
<rect x="80" y="821" width="589" height="1" fill="#c3c3c3"/>
<rect x="68" y="834" width="11" height="1" fill="#c3c3c3"/>
<rect x="80" y="834" width="589" height="1" fill="#c3c3c3"/>
<rect x="68" y="846" width="11" height="1" fill="#c3c3c3"/>
<rect x="80" y="846" width="589" height="1" fill="#c3c3c3"/>
<rect x="68" y="859" width="11" height="1" fill="#c3c3c3"/>
<rect x="80" y="859" width="589" height="1" fill="#c3c3c3"/>
<rect x="68" y="871" width="11" height="1" fill="#c3c3c3"/>
<rect x="671" y="695" width="10" height="1" fill="#c3c3c3"/>
<rect x="671" y="717" width="10" height="1" fill="#c3c3c3"/>
<rect x="671" y="739" width="10" height="1" fill="#c3c3c3"/>
<rect x="671" y="761" width="10" height="1" fill="#c3c3c3"/>
<rect x="671" y="783" width="10" height="1" fill="#c3c3c3"/>
<rect x="671" y="805" width="10" height="1" fill="#c3c3c3"/>
<rect x="671" y="827" width="10" height="1" fill="#c3c3c3"/>
<rect x="671" y="849" width="10" height="1" fill="#c3c3c3"/>
<rect x="671" y="871" width="10" height="1" fill="#c3c3c3"/>
<rect x="85.5" y="816.5" width="4.5" height="56.10000000000002" fill="#2e8420" stroke="#1d5f14" stroke-width="1"/>
<rect x="90.5" y="758.5" width="5.2" height="114.10000000000002" fill="#b20a2e" stroke="#7d0a22" stroke-width="1"/>
<rect x="105.5" y="776.5" width="4.5" height="96.10000000000002" fill="#2e8420" stroke="#1d5f14" stroke-width="1"/>
<rect x="110.5" y="795.5" width="5.2" height="77.10000000000002" fill="#b20a2e" stroke="#7d0a22" stroke-width="1"/>
<rect x="125.5" y="765.5" width="4.5" height="107.10000000000002" fill="#2e8420" stroke="#1d5f14" stroke-width="1"/>
<rect x="130.5" y="852.5" width="5.2" height="20.100000000000023" fill="#b20a2e" stroke="#7d0a22" stroke-width="1"/>
<rect x="146.5" y="790.5" width="4.5" height="82.10000000000002" fill="#2e8420" stroke="#1d5f14" stroke-width="1"/>
<rect x="151.5" y="804.5" width="5.2" height="68.10000000000002" fill="#b20a2e" stroke="#7d0a22" stroke-width="1"/>
<rect x="166.5" y="798.5" width="4.5" height="74.10000000000002" fill="#2e8420" stroke="#1d5f14" stroke-width="1"/>
<rect x="171.5" y="830.5" width="5.2" height="42.10000000000002" fill="#b20a2e" stroke="#7d0a22" stroke-width="1"/>
<rect x="186.5" y="813.5" width="4.5" height="59.10000000000002" fill="#2e8420" stroke="#1d5f14" stroke-width="1"/>
<rect x="191.5" y="801.5" width="5.2" height="71.10000000000002" fill="#b20a2e" stroke="#7d0a22" stroke-width="1"/>
<rect x="207.5" y="832.5" width="4.5" height="40.10000000000002" fill="#2e8420" stroke="#1d5f14" stroke-width="1"/>
<rect x="212.5" y="802.5" width="5.2" height="70.10000000000002" fill="#b20a2e" stroke="#7d0a22" stroke-width="1"/>
<rect x="227.5" y="837.5" width="4.5" height="35.10000000000002" fill="#2e8420" stroke="#1d5f14" stroke-width="1"/>
<rect x="232.5" y="733.5" width="5.2" height="139.10000000000002" fill="#b20a2e" stroke="#7d0a22" stroke-width="1"/>
<rect x="247.5" y="821.5" width="4.5" height="51.10000000000002" fill="#2e8420" stroke="#1d5f14" stroke-width="1"/>
<rect x="252.5" y="794.5" width="5.2" height="78.10000000000002" fill="#b20a2e" stroke="#7d0a22" stroke-width="1"/>
<rect x="268.5" y="811.5" width="4.5" height="61.10000000000002" fill="#2e8420" stroke="#1d5f14" stroke-width="1"/>
<rect x="273.5" y="796.5" width="5.2" height="76.10000000000002" fill="#b20a2e" stroke="#7d0a22" stroke-width="1"/>
<rect x="288.5" y="815.5" width="4.5" height="57.10000000000002" fill="#2e8420" stroke="#1d5f14" stroke-width="1"/>
<rect x="293.5" y="836.5" width="5.2" height="36.10000000000002" fill="#b20a2e" stroke="#7d0a22" stroke-width="1"/>
<rect x="308.5" y="763.5" width="4.5" height="109.10000000000002" fill="#2e8420" stroke="#1d5f14" stroke-width="1"/>
<rect x="313.5" y="834.5" width="5.2" height="38.10000000000002" fill="#b20a2e" stroke="#7d0a22" stroke-width="1"/>
<rect x="329.5" y="711.5" width="4.5" height="161.10000000000002" fill="#2e8420" stroke="#1d5f14" stroke-width="1"/>
<rect x="334.5" y="828.5" width="5.2" height="44.10000000000002" fill="#b20a2e" stroke="#7d0a22" stroke-width="1"/>
<rect x="349.5" y="832.5" width="4.5" height="40.10000000000002" fill="#2e8420" stroke="#1d5f14" stroke-width="1"/>
<rect x="354.5" y="783.5" width="5.2" height="89.10000000000002" fill="#b20a2e" stroke="#7d0a22" stroke-width="1"/>
<rect x="369.5" y="854.5" width="4.5" height="18.100000000000023" fill="#2e8420" stroke="#1d5f14" stroke-width="1"/>
<rect x="374.5" y="839.5" width="5.2" height="33.10000000000002" fill="#b20a2e" stroke="#7d0a22" stroke-width="1"/>
<rect x="390.5" y="863.5" width="4.5" height="9.100000000000023" fill="#2e8420" stroke="#1d5f14" stroke-width="1"/>
<rect x="395.5" y="854.5" width="5.2" height="18.100000000000023" fill="#b20a2e" stroke="#7d0a22" stroke-width="1"/>
<rect x="410.5" y="822.5" width="4.5" height="50.10000000000002" fill="#2e8420" stroke="#1d5f14" stroke-width="1"/>
<rect x="415.5" y="782.5" width="5.2" height="90.10000000000002" fill="#b20a2e" stroke="#7d0a22" stroke-width="1"/>
<rect x="431.5" y="841.5" width="4.5" height="31.100000000000023" fill="#2e8420" stroke="#1d5f14" stroke-width="1"/>
<rect x="436.5" y="833.5" width="5.2" height="39.10000000000002" fill="#b20a2e" stroke="#7d0a22" stroke-width="1"/>
<rect x="451.5" y="829.5" width="4.5" height="43.10000000000002" fill="#2e8420" stroke="#1d5f14" stroke-width="1"/>
<rect x="456.5" y="837.5" width="5.2" height="35.10000000000002" fill="#b20a2e" stroke="#7d0a22" stroke-width="1"/>
<rect x="471.5" y="809.5" width="4.5" height="63.10000000000002" fill="#2e8420" stroke="#1d5f14" stroke-width="1"/>
<rect x="476.5" y="807.5" width="5.2" height="65.10000000000002" fill="#b20a2e" stroke="#7d0a22" stroke-width="1"/>
<rect x="492.5" y="804.5" width="4.5" height="68.10000000000002" fill="#2e8420" stroke="#1d5f14" stroke-width="1"/>
<rect x="497.5" y="826.5" width="5.2" height="46.10000000000002" fill="#b20a2e" stroke="#7d0a22" stroke-width="1"/>
<rect x="512.5" y="831.5" width="4.5" height="41.10000000000002" fill="#2e8420" stroke="#1d5f14" stroke-width="1"/>
<rect x="517.5" y="813.5" width="5.2" height="59.10000000000002" fill="#b20a2e" stroke="#7d0a22" stroke-width="1"/>
<rect x="532.5" y="855.5" width="4.5" height="17.100000000000023" fill="#2e8420" stroke="#1d5f14" stroke-width="1"/>
<rect x="537.5" y="830.5" width="5.2" height="42.10000000000002" fill="#b20a2e" stroke="#7d0a22" stroke-width="1"/>
<rect x="553.5" y="806.5" width="4.5" height="66.10000000000002" fill="#2e8420" stroke="#1d5f14" stroke-width="1"/>
<rect x="558.5" y="851.5" width="5.2" height="21.100000000000023" fill="#b20a2e" stroke="#7d0a22" stroke-width="1"/>
<rect x="573.5" y="826.5" width="4.5" height="46.10000000000002" fill="#2e8420" stroke="#1d5f14" stroke-width="1"/>
<rect x="578.5" y="780.5" width="5.2" height="92.10000000000002" fill="#b20a2e" stroke="#7d0a22" stroke-width="1"/>
<rect x="593.5" y="848.5" width="4.5" height="24.100000000000023" fill="#2e8420" stroke="#1d5f14" stroke-width="1"/>
<rect x="598.5" y="828.5" width="5.2" height="44.10000000000002" fill="#b20a2e" stroke="#7d0a22" stroke-width="1"/>
<rect x="614.5" y="783.5" width="4.5" height="89.10000000000002" fill="#2e8420" stroke="#1d5f14" stroke-width="1"/>
<rect x="619.5" y="839.5" width="5.2" height="33.10000000000002" fill="#b20a2e" stroke="#7d0a22" stroke-width="1"/>
<rect x="634.5" y="765.5" width="4.5" height="107.10000000000002" fill="#2e8420" stroke="#1d5f14" stroke-width="1"/>
<rect x="639.5" y="844.5" width="5.2" height="28.100000000000023" fill="#b20a2e" stroke="#7d0a22" stroke-width="1"/>
<rect x="654.5" y="814.5" width="4.5" height="58.10000000000002" fill="#2e8420" stroke="#1d5f14" stroke-width="1"/>
<rect x="659.5" y="832.5" width="5.2" height="40.10000000000002" fill="#b20a2e" stroke="#7d0a22" stroke-width="1"/>
<rect x="73" y="695" width="1" height="177" fill="#000"/>
<rect x="675" y="695" width="1" height="177" fill="#000"/>
<rect x="80" y="873" width="1" height="11" fill="#c3c3c3"/>
<rect x="100" y="873" width="1" height="11" fill="#c3c3c3"/>
<rect x="120" y="873" width="1" height="11" fill="#c3c3c3"/>
<rect x="141" y="873" width="1" height="11" fill="#c3c3c3"/>
<rect x="161" y="873" width="1" height="11" fill="#c3c3c3"/>
<rect x="181" y="873" width="1" height="11" fill="#c3c3c3"/>
<rect x="202" y="873" width="1" height="11" fill="#c3c3c3"/>
<rect x="222" y="873" width="1" height="11" fill="#c3c3c3"/>
<rect x="242" y="873" width="1" height="11" fill="#c3c3c3"/>
<rect x="263" y="873" width="1" height="11" fill="#c3c3c3"/>
<rect x="283" y="873" width="1" height="11" fill="#c3c3c3"/>
<rect x="303" y="873" width="1" height="11" fill="#c3c3c3"/>
<rect x="324" y="873" width="1" height="11" fill="#c3c3c3"/>
<rect x="344" y="873" width="1" height="11" fill="#c3c3c3"/>
<rect x="364" y="873" width="1" height="11" fill="#c3c3c3"/>
<rect x="385" y="873" width="1" height="11" fill="#c3c3c3"/>
<rect x="405" y="873" width="1" height="11" fill="#c3c3c3"/>
<rect x="425" y="873" width="1" height="11" fill="#c3c3c3"/>
<rect x="446" y="873" width="1" height="11" fill="#c3c3c3"/>
<rect x="466" y="873" width="1" height="11" fill="#c3c3c3"/>
<rect x="486" y="873" width="1" height="11" fill="#c3c3c3"/>
<rect x="507" y="873" width="1" height="11" fill="#c3c3c3"/>
<rect x="527" y="873" width="1" height="11" fill="#c3c3c3"/>
<rect x="547" y="873" width="1" height="11" fill="#c3c3c3"/>
<rect x="568" y="873" width="1" height="11" fill="#c3c3c3"/>
<rect x="588" y="873" width="1" height="11" fill="#c3c3c3"/>
<rect x="608" y="873" width="1" height="11" fill="#c3c3c3"/>
<rect x="629" y="873" width="1" height="11" fill="#c3c3c3"/>
<rect x="649" y="873" width="1" height="11" fill="#c3c3c3"/>
<rect x="668" y="873" width="1" height="11" fill="#c3c3c3"/>
<rect x="79" y="878" width="591" height="1" fill="#000"/>
<polyline points="89.7,812.1 110.0,789.2 130.4,770.4 150.7,788.0 171.0,782.8 191.4,817.3 211.7,834.3 232.1,827.6 252.4,820.0 272.8,795.9 293.1,815.0 313.4,773.0 333.8,706.5 354.1,821.6 374.5,847.1 394.8,867.9 415.2,814.0 435.5,833.1 455.8,814.2 476.2,821.9 496.5,803.5 516.9,830.4 537.2,852.4 557.6,807.3 577.9,825.9 598.2,835.5 618.6,777.8 638.9,784.4 659.3,796.6" fill="none" stroke="#2e8420" stroke-width="1"/>
<polyline points="89.7,758.0 110.0,791.6 130.4,839.0 150.7,793.5 171.0,839.0 191.4,797.3 211.7,801.4 232.1,753.7 252.4,801.8 272.8,796.3 293.1,818.0 313.4,820.2 333.8,827.3 354.1,765.8 374.5,814.2 394.8,838.8 415.2,779.9 435.5,825.2 455.8,840.9 476.2,778.5 496.5,803.0 516.9,806.4 537.2,820.0 557.6,843.3 577.9,777.8 598.2,812.8 618.6,830.2 638.9,842.8 659.3,822.1" fill="none" stroke="#b20a2e" stroke-width="1"/>
<circle cx="89.7" cy="812.1" r="3.8" fill="#2e8420" stroke="#061a04" stroke-width="1.1"/>
<circle cx="110.0" cy="789.2" r="3.8" fill="#2e8420" stroke="#061a04" stroke-width="1.1"/>
<circle cx="130.4" cy="770.4" r="3.8" fill="#2e8420" stroke="#061a04" stroke-width="1.1"/>
<circle cx="150.7" cy="788.0" r="3.8" fill="#2e8420" stroke="#061a04" stroke-width="1.1"/>
<circle cx="171.0" cy="782.8" r="3.8" fill="#2e8420" stroke="#061a04" stroke-width="1.1"/>
<circle cx="191.4" cy="817.3" r="3.8" fill="#2e8420" stroke="#061a04" stroke-width="1.1"/>
<circle cx="211.7" cy="834.3" r="3.8" fill="#2e8420" stroke="#061a04" stroke-width="1.1"/>
<circle cx="232.1" cy="827.6" r="3.8" fill="#2e8420" stroke="#061a04" stroke-width="1.1"/>
<circle cx="252.4" cy="820.0" r="3.8" fill="#2e8420" stroke="#061a04" stroke-width="1.1"/>
<circle cx="272.8" cy="795.9" r="3.8" fill="#2e8420" stroke="#061a04" stroke-width="1.1"/>
<circle cx="293.1" cy="815.0" r="3.8" fill="#2e8420" stroke="#061a04" stroke-width="1.1"/>
<circle cx="313.4" cy="773.0" r="3.8" fill="#2e8420" stroke="#061a04" stroke-width="1.1"/>
<circle cx="333.8" cy="706.5" r="3.8" fill="#2e8420" stroke="#061a04" stroke-width="1.1"/>
<circle cx="354.1" cy="821.6" r="3.8" fill="#2e8420" stroke="#061a04" stroke-width="1.1"/>
<circle cx="374.5" cy="847.1" r="3.8" fill="#2e8420" stroke="#061a04" stroke-width="1.1"/>
<circle cx="394.8" cy="867.9" r="3.8" fill="#2e8420" stroke="#061a04" stroke-width="1.1"/>
<circle cx="415.2" cy="814.0" r="3.8" fill="#2e8420" stroke="#061a04" stroke-width="1.1"/>
<circle cx="435.5" cy="833.1" r="3.8" fill="#2e8420" stroke="#061a04" stroke-width="1.1"/>
<circle cx="455.8" cy="814.2" r="3.8" fill="#2e8420" stroke="#061a04" stroke-width="1.1"/>
<circle cx="476.2" cy="821.9" r="3.8" fill="#2e8420" stroke="#061a04" stroke-width="1.1"/>
<circle cx="496.5" cy="803.5" r="3.8" fill="#2e8420" stroke="#061a04" stroke-width="1.1"/>
<circle cx="516.9" cy="830.4" r="3.8" fill="#2e8420" stroke="#061a04" stroke-width="1.1"/>
<circle cx="537.2" cy="852.4" r="3.8" fill="#2e8420" stroke="#061a04" stroke-width="1.1"/>
<circle cx="557.6" cy="807.3" r="3.8" fill="#2e8420" stroke="#061a04" stroke-width="1.1"/>
<circle cx="577.9" cy="825.9" r="3.8" fill="#2e8420" stroke="#061a04" stroke-width="1.1"/>
<circle cx="598.2" cy="835.5" r="3.8" fill="#2e8420" stroke="#061a04" stroke-width="1.1"/>
<circle cx="618.6" cy="777.8" r="3.8" fill="#2e8420" stroke="#061a04" stroke-width="1.1"/>
<circle cx="638.9" cy="784.4" r="3.8" fill="#2e8420" stroke="#061a04" stroke-width="1.1"/>
<circle cx="659.3" cy="796.6" r="3.8" fill="#2e8420" stroke="#061a04" stroke-width="1.1"/>
<circle cx="89.7" cy="758.0" r="3.8" fill="#b20a2e" stroke="#1c0208" stroke-width="1.1"/>
<circle cx="110.0" cy="791.6" r="3.8" fill="#b20a2e" stroke="#1c0208" stroke-width="1.1"/>
<circle cx="130.4" cy="839.0" r="3.8" fill="#b20a2e" stroke="#1c0208" stroke-width="1.1"/>
<circle cx="150.7" cy="793.5" r="3.8" fill="#b20a2e" stroke="#1c0208" stroke-width="1.1"/>
<circle cx="171.0" cy="839.0" r="3.8" fill="#b20a2e" stroke="#1c0208" stroke-width="1.1"/>
<circle cx="191.4" cy="797.3" r="3.8" fill="#b20a2e" stroke="#1c0208" stroke-width="1.1"/>
<circle cx="211.7" cy="801.4" r="3.8" fill="#b20a2e" stroke="#1c0208" stroke-width="1.1"/>
<circle cx="232.1" cy="753.7" r="3.8" fill="#b20a2e" stroke="#1c0208" stroke-width="1.1"/>
<circle cx="252.4" cy="801.8" r="3.8" fill="#b20a2e" stroke="#1c0208" stroke-width="1.1"/>
<circle cx="272.8" cy="796.3" r="3.8" fill="#b20a2e" stroke="#1c0208" stroke-width="1.1"/>
<circle cx="293.1" cy="818.0" r="3.8" fill="#b20a2e" stroke="#1c0208" stroke-width="1.1"/>
<circle cx="313.4" cy="820.2" r="3.8" fill="#b20a2e" stroke="#1c0208" stroke-width="1.1"/>
<circle cx="333.8" cy="827.3" r="3.8" fill="#b20a2e" stroke="#1c0208" stroke-width="1.1"/>
<circle cx="354.1" cy="765.8" r="3.8" fill="#b20a2e" stroke="#1c0208" stroke-width="1.1"/>
<circle cx="374.5" cy="814.2" r="3.8" fill="#b20a2e" stroke="#1c0208" stroke-width="1.1"/>
<circle cx="394.8" cy="838.8" r="3.8" fill="#b20a2e" stroke="#1c0208" stroke-width="1.1"/>
<circle cx="415.2" cy="779.9" r="3.8" fill="#b20a2e" stroke="#1c0208" stroke-width="1.1"/>
<circle cx="435.5" cy="825.2" r="3.8" fill="#b20a2e" stroke="#1c0208" stroke-width="1.1"/>
<circle cx="455.8" cy="840.9" r="3.8" fill="#b20a2e" stroke="#1c0208" stroke-width="1.1"/>
<circle cx="476.2" cy="778.5" r="3.8" fill="#b20a2e" stroke="#1c0208" stroke-width="1.1"/>
<circle cx="496.5" cy="803.0" r="3.8" fill="#b20a2e" stroke="#1c0208" stroke-width="1.1"/>
<circle cx="516.9" cy="806.4" r="3.8" fill="#b20a2e" stroke="#1c0208" stroke-width="1.1"/>
<circle cx="537.2" cy="820.0" r="3.8" fill="#b20a2e" stroke="#1c0208" stroke-width="1.1"/>
<circle cx="557.6" cy="843.3" r="3.8" fill="#b20a2e" stroke="#1c0208" stroke-width="1.1"/>
<circle cx="577.9" cy="777.8" r="3.8" fill="#b20a2e" stroke="#1c0208" stroke-width="1.1"/>
<circle cx="598.2" cy="812.8" r="3.8" fill="#b20a2e" stroke="#1c0208" stroke-width="1.1"/>
<circle cx="618.6" cy="830.2" r="3.8" fill="#b20a2e" stroke="#1c0208" stroke-width="1.1"/>
<circle cx="638.9" cy="842.8" r="3.8" fill="#b20a2e" stroke="#1c0208" stroke-width="1.1"/>
<circle cx="659.3" cy="822.1" r="3.8" fill="#b20a2e" stroke="#1c0208" stroke-width="1.1"/>
<text transform="translate(60.60,699.00) scale(1.0047,1)" font-size="9.8" font-weight="normal" text-anchor="end" fill="#000" stroke="#000" stroke-width="0.22">4,20</text>
<text transform="translate(60.60,712.00) scale(1.0047,1)" font-size="9.8" font-weight="normal" text-anchor="end" fill="#000" stroke="#000" stroke-width="0.22">4,00</text>
<text transform="translate(60.60,724.00) scale(1.0047,1)" font-size="9.8" font-weight="normal" text-anchor="end" fill="#000" stroke="#000" stroke-width="0.22">3,80</text>
<text transform="translate(60.60,737.00) scale(1.0047,1)" font-size="9.8" font-weight="normal" text-anchor="end" fill="#000" stroke="#000" stroke-width="0.22">3,60</text>
<text transform="translate(60.60,749.00) scale(1.0047,1)" font-size="9.8" font-weight="normal" text-anchor="end" fill="#000" stroke="#000" stroke-width="0.22">3,40</text>
<text transform="translate(60.60,762.00) scale(1.0047,1)" font-size="9.8" font-weight="normal" text-anchor="end" fill="#000" stroke="#000" stroke-width="0.22">3,20</text>
<text transform="translate(60.60,774.00) scale(1.0047,1)" font-size="9.8" font-weight="normal" text-anchor="end" fill="#000" stroke="#000" stroke-width="0.22">3,00</text>
<text transform="translate(60.60,787.00) scale(1.0047,1)" font-size="9.8" font-weight="normal" text-anchor="end" fill="#000" stroke="#000" stroke-width="0.22">2,80</text>
<text transform="translate(60.60,799.00) scale(1.0047,1)" font-size="9.8" font-weight="normal" text-anchor="end" fill="#000" stroke="#000" stroke-width="0.22">2,60</text>
<text transform="translate(60.60,812.00) scale(1.0047,1)" font-size="9.8" font-weight="normal" text-anchor="end" fill="#000" stroke="#000" stroke-width="0.22">2,40</text>
<text transform="translate(60.60,825.00) scale(1.0047,1)" font-size="9.8" font-weight="normal" text-anchor="end" fill="#000" stroke="#000" stroke-width="0.22">2,20</text>
<text transform="translate(60.60,838.00) scale(1.0047,1)" font-size="9.8" font-weight="normal" text-anchor="end" fill="#000" stroke="#000" stroke-width="0.22">2,00</text>
<text transform="translate(60.60,850.00) scale(1.0047,1)" font-size="9.8" font-weight="normal" text-anchor="end" fill="#000" stroke="#000" stroke-width="0.22">1,80</text>
<text transform="translate(60.60,863.00) scale(1.0047,1)" font-size="9.8" font-weight="normal" text-anchor="end" fill="#000" stroke="#000" stroke-width="0.22">1,60</text>
<text transform="translate(60.60,875.00) scale(1.0047,1)" font-size="9.8" font-weight="normal" text-anchor="end" fill="#000" stroke="#000" stroke-width="0.22">1,40</text>
<text transform="translate(685.00,700.10) scale(0.9850,1)" font-size="10" font-weight="normal" text-anchor="start" fill="#000" stroke="#000" stroke-width="0.22">6,00</text>
<text transform="translate(685.00,722.10) scale(0.9850,1)" font-size="10" font-weight="normal" text-anchor="start" fill="#000" stroke="#000" stroke-width="0.22">5,60</text>
<text transform="translate(685.00,744.10) scale(0.9850,1)" font-size="10" font-weight="normal" text-anchor="start" fill="#000" stroke="#000" stroke-width="0.22">5,20</text>
<text transform="translate(685.00,766.10) scale(0.9850,1)" font-size="10" font-weight="normal" text-anchor="start" fill="#000" stroke="#000" stroke-width="0.22">4,80</text>
<text transform="translate(685.00,788.10) scale(0.9850,1)" font-size="10" font-weight="normal" text-anchor="start" fill="#000" stroke="#000" stroke-width="0.22">4,40</text>
<text transform="translate(685.00,810.10) scale(0.9850,1)" font-size="10" font-weight="normal" text-anchor="start" fill="#000" stroke="#000" stroke-width="0.22">4,00</text>
<text transform="translate(685.00,832.10) scale(0.9850,1)" font-size="10" font-weight="normal" text-anchor="start" fill="#000" stroke="#000" stroke-width="0.22">3,60</text>
<text transform="translate(685.00,854.10) scale(0.9850,1)" font-size="10" font-weight="normal" text-anchor="start" fill="#000" stroke="#000" stroke-width="0.22">3,20</text>
<text transform="translate(685.00,876.10) scale(0.9850,1)" font-size="10" font-weight="normal" text-anchor="start" fill="#000" stroke="#000" stroke-width="0.22">2,80</text>
<text transform="translate(34.5,710.3) rotate(-90) scale(1.055,1)" font-size="10" font-weight="bold" text-anchor="end">Moyenne ( Mbits/s )</text>
<text transform="translate(720.5,711.0) rotate(-90) scale(1.055,1)" font-size="10" font-weight="bold" text-anchor="end">Maximum ( Mbits/s )</text>
<text transform="translate(89.67,894.00) scale(1.0000,1)" font-size="11.4" font-weight="normal" text-anchor="middle" fill="#000" stroke="#000" stroke-width="0.22">1</text>
<text transform="translate(110.01,894.00) scale(1.0000,1)" font-size="11.4" font-weight="normal" text-anchor="middle" fill="#000" stroke="#000" stroke-width="0.22">2</text>
<text transform="translate(130.36,894.00) scale(1.0000,1)" font-size="11.4" font-weight="normal" text-anchor="middle" fill="#000" stroke="#000" stroke-width="0.22">3</text>
<text transform="translate(150.70,894.00) scale(1.0000,1)" font-size="11.4" font-weight="normal" text-anchor="middle" fill="#000" stroke="#000" stroke-width="0.22">4</text>
<text transform="translate(171.04,894.00) scale(1.0000,1)" font-size="11.4" font-weight="normal" text-anchor="middle" fill="#000" stroke="#000" stroke-width="0.22">5</text>
<text transform="translate(191.39,894.00) scale(1.0000,1)" font-size="11.4" font-weight="normal" text-anchor="middle" fill="#000" stroke="#000" stroke-width="0.22">6</text>
<text transform="translate(211.73,894.00) scale(1.0000,1)" font-size="11.4" font-weight="normal" text-anchor="middle" fill="#000" stroke="#000" stroke-width="0.22">7</text>
<text transform="translate(232.07,894.00) scale(1.0000,1)" font-size="11.4" font-weight="normal" text-anchor="middle" fill="#000" stroke="#000" stroke-width="0.22">8</text>
<text transform="translate(252.42,894.00) scale(1.0000,1)" font-size="11.4" font-weight="normal" text-anchor="middle" fill="#000" stroke="#000" stroke-width="0.22">9</text>
<text transform="translate(272.76,894.00) scale(1.0000,1)" font-size="11.4" font-weight="normal" text-anchor="middle" fill="#000" stroke="#000" stroke-width="0.22">10</text>
<text transform="translate(293.10,894.00) scale(1.0000,1)" font-size="11.4" font-weight="normal" text-anchor="middle" fill="#000" stroke="#000" stroke-width="0.22">11</text>
<text transform="translate(313.44,894.00) scale(1.0000,1)" font-size="11.4" font-weight="normal" text-anchor="middle" fill="#000" stroke="#000" stroke-width="0.22">12</text>
<text transform="translate(333.79,894.00) scale(1.0000,1)" font-size="11.4" font-weight="normal" text-anchor="middle" fill="#000" stroke="#000" stroke-width="0.22">13</text>
<text transform="translate(354.13,894.00) scale(1.0000,1)" font-size="11.4" font-weight="normal" text-anchor="middle" fill="#000" stroke="#000" stroke-width="0.22">14</text>
<text transform="translate(374.47,894.00) scale(1.0000,1)" font-size="11.4" font-weight="normal" text-anchor="middle" fill="#000" stroke="#000" stroke-width="0.22">15</text>
<text transform="translate(394.82,894.00) scale(1.0000,1)" font-size="11.4" font-weight="normal" text-anchor="middle" fill="#000" stroke="#000" stroke-width="0.22">16</text>
<text transform="translate(415.16,894.00) scale(1.0000,1)" font-size="11.4" font-weight="normal" text-anchor="middle" fill="#000" stroke="#000" stroke-width="0.22">17</text>
<text transform="translate(435.50,894.00) scale(1.0000,1)" font-size="11.4" font-weight="normal" text-anchor="middle" fill="#000" stroke="#000" stroke-width="0.22">18</text>
<text transform="translate(455.85,894.00) scale(1.0000,1)" font-size="11.4" font-weight="normal" text-anchor="middle" fill="#000" stroke="#000" stroke-width="0.22">19</text>
<text transform="translate(476.19,894.00) scale(1.0000,1)" font-size="11.4" font-weight="normal" text-anchor="middle" fill="#000" stroke="#000" stroke-width="0.22">20</text>
<text transform="translate(496.53,894.00) scale(1.0000,1)" font-size="11.4" font-weight="normal" text-anchor="middle" fill="#000" stroke="#000" stroke-width="0.22">21</text>
<text transform="translate(516.87,894.00) scale(1.0000,1)" font-size="11.4" font-weight="normal" text-anchor="middle" fill="#000" stroke="#000" stroke-width="0.22">22</text>
<text transform="translate(537.22,894.00) scale(1.0000,1)" font-size="11.4" font-weight="normal" text-anchor="middle" fill="#000" stroke="#000" stroke-width="0.22">23</text>
<text transform="translate(557.56,894.00) scale(1.0000,1)" font-size="11.4" font-weight="normal" text-anchor="middle" fill="#000" stroke="#000" stroke-width="0.22">24</text>
<text transform="translate(577.90,894.00) scale(1.0000,1)" font-size="11.4" font-weight="normal" text-anchor="middle" fill="#000" stroke="#000" stroke-width="0.22">25</text>
<text transform="translate(598.25,894.00) scale(1.0000,1)" font-size="11.4" font-weight="normal" text-anchor="middle" fill="#000" stroke="#000" stroke-width="0.22">26</text>
<text transform="translate(618.59,894.00) scale(1.0000,1)" font-size="11.4" font-weight="normal" text-anchor="middle" fill="#000" stroke="#000" stroke-width="0.22">27</text>
<text transform="translate(638.93,894.00) scale(1.0000,1)" font-size="11.4" font-weight="normal" text-anchor="middle" fill="#000" stroke="#000" stroke-width="0.22">28</text>
<text transform="translate(659.28,894.00) scale(1.0000,1)" font-size="11.4" font-weight="normal" text-anchor="middle" fill="#000" stroke="#000" stroke-width="0.22">29</text>
<rect x="142.5" y="907.5" width="18" height="9" fill="#2e8420" stroke="#1d5f14" stroke-width="1"/>
<text transform="translate(166.00,915.60) scale(0.9900,1)" font-size="10" font-weight="normal" text-anchor="start" fill="#000" stroke="#000" stroke-width="0.22">Moyenne sortant</text>
<rect x="260.5" y="907.5" width="17" height="9" fill="#b20a2e" stroke="#7d0a22" stroke-width="1"/>
<text transform="translate(283.50,915.60) scale(1.0000,1)" font-size="10" font-weight="normal" text-anchor="start" fill="#000" stroke="#000" stroke-width="0.22">Moyenne entrant</text>
<rect x="379" y="911" width="16" height="1" fill="#2e8420"/>
<circle cx="387" cy="911.6" r="2.6" fill="#2e8420" stroke="#0c2a08" stroke-width="1"/>
<text transform="translate(402.00,915.60) scale(1.0000,1)" font-size="10" font-weight="normal" text-anchor="start" fill="#000" stroke="#000" stroke-width="0.22">Maximum sortant</text>
<rect x="497" y="911" width="16" height="1" fill="#b20a2e"/>
<circle cx="505" cy="911.6" r="2.6" fill="#b20a2e" stroke="#2a040c" stroke-width="1"/>
<text transform="translate(520.00,915.60) scale(1.0000,1)" font-size="10" font-weight="normal" text-anchor="start" fill="#000" stroke="#000" stroke-width="0.22">Maximum entrant</text>
</svg>
</body></html>
